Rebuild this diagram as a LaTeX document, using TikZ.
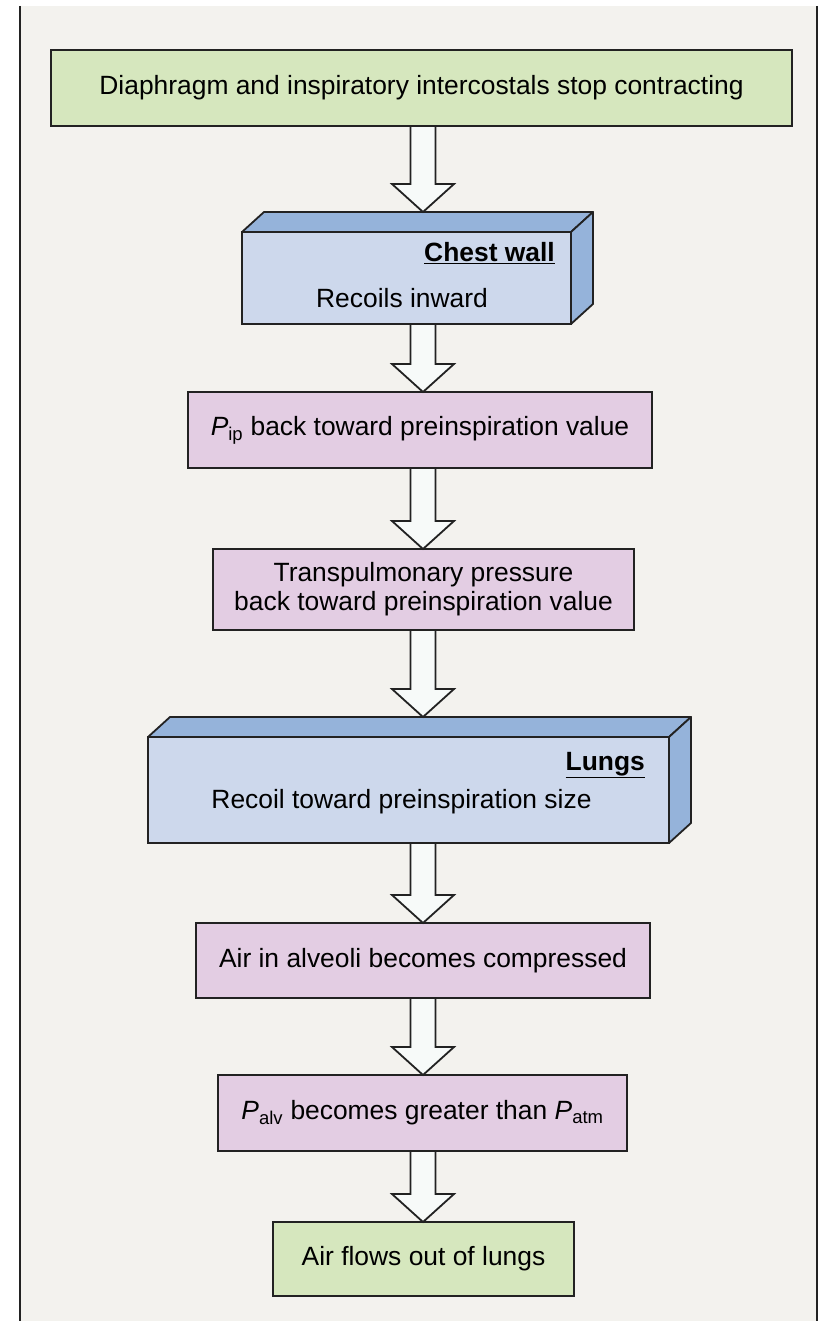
\documentclass[tikz,border=0pt]{standalone}
\usepackage{fontspec}
\setmainfont{Liberation Sans}
\usetikzlibrary{calc}
\definecolor{paper}{HTML}{F3F2EE}
\definecolor{leaf}{HTML}{D6E7BE}
\definecolor{skyfront}{HTML}{CDD8EC}
\definecolor{skyside}{HTML}{95B3DA}
\definecolor{lilac}{HTML}{E3CDE3}
\definecolor{arrowfill}{HTML}{F7FAF9}
\definecolor{ink}{HTML}{222222}
\tikzset{
  box/.style={draw=ink, line width=1.8pt, inner sep=0pt, outer sep=0pt,
    font=\fontsize{26.4}{29}\selectfont, align=center},
  greenbox/.style={box, fill=leaf},
  pinkbox/.style={box, fill=lilac},
  bluebox/.style={box, fill=skyfront},
  slab/.style={draw=ink, line width=1.8pt, fill=skyside, line join=round},
  fat/.style={draw=ink, line width=1.8pt, fill=arrowfill, line join=miter},
  tag/.style={inner sep=0pt, font=\fontsize{26.4}{29}\selectfont},
}
% hollow arrow from #1 down to #2, on the x of (axis)
\newcommand{\fatarrow}[2]{%
  \draw[fat] ($(#1 -| axis)+(-12.5,0)$) -- ($(#2 -| axis)+(-12.5,-28)$)
    -- ($(#2 -| axis)+(-31,-28)$) -- (#2 -| axis)
    -- ($(#2 -| axis)+(31,-28)$) -- ($(#2 -| axis)+(12.5,-28)$)
    -- ($(#1 -| axis)+(12.5,0)$) -- cycle;}
\begin{document}
\begin{tikzpicture}[x=1pt, y=-1pt]
  \useasboundingbox (0,0) rectangle (825,1321);
  \fill[paper] (20,6) rectangle (817,1321);
  \draw[ink, line width=1.8pt] (20,6) -- (20,1321) (817,6) -- (817,1321);
  \coordinate (axis) at (423,0);

  \node[greenbox, minimum width=741pt, minimum height=76pt] (stop) at (421.5,88)
    {Diaphragm and inspiratory intercostals stop contracting};

  \node[bluebox, minimum width=329pt, minimum height=92pt] (chest) at (406.5,278) {};
  \draw[slab] (chest.north west) -- ($(chest.north west)+(22,-20)$)
    -- ($(chest.north east)+(22,-20)$) -- (chest.north east) -- cycle;
  \draw[slab] (chest.north east) -- ($(chest.north east)+(22,-20)$)
    -- ($(chest.south east)+(22,-20)$) -- (chest.south east) -- cycle;
  \coordinate (chestback) at ($(chest.north)+(0,-20)$);
  \node[tag, anchor=base east, font=\fontsize{26.4}{29}\selectfont\bfseries] (chesttitle)
    at ($(chest.north east)+(-16,30)$) {\underline{Chest wall}};
  \node[tag, anchor=base] (chesttext) at ($(chest.north)+(-4.5,75)$) {Recoils inward};

  \node[pinkbox, minimum width=464pt, minimum height=76pt] (pip) at (420,430)
    {\textit{P}\textsubscript{ip} back toward preinspiration value};

  \node[pinkbox, minimum width=421pt, minimum height=81pt] (trans) at (423.5,589.5)
    {Transpulmonary pressure\\back toward preinspiration value};

  \node[bluebox, minimum width=521pt, minimum height=106pt] (lungs) at (408.5,790) {};
  \draw[slab] (lungs.north west) -- ($(lungs.north west)+(22,-20)$)
    -- ($(lungs.north east)+(22,-20)$) -- (lungs.north east) -- cycle;
  \draw[slab] (lungs.north east) -- ($(lungs.north east)+(22,-20)$)
    -- ($(lungs.south east)+(22,-20)$) -- (lungs.south east) -- cycle;
  \coordinate (lungsback) at ($(lungs.north)+(0,-20)$);
  \node[tag, anchor=base east, font=\fontsize{26.4}{29}\selectfont\bfseries] (lungstitle)
    at ($(lungs.north east)+(-24,33)$) {\underline{Lungs}};
  \node[tag, anchor=base] (lungstext) at ($(lungs.north)+(-7,71)$)
    {Recoil toward preinspiration size};

  \node[pinkbox, minimum width=454pt, minimum height=75pt] (air) at (423,960.5)
    {Air in alveoli becomes compressed};

  \node[pinkbox, minimum width=409pt, minimum height=76pt] (palv) at (422.5,1113)
    {\textit{P}\textsubscript{alv} becomes greater than \textit{P}\textsubscript{atm}};

  \node[greenbox, minimum width=301pt, minimum height=74pt] (out) at (423.5,1259)
    {Air flows out of lungs};

  \begin{scope}
    \fatarrow{stop.south}{chestback}
    \fatarrow{chest.south}{pip.north}
    \fatarrow{pip.south}{trans.north}
    \fatarrow{trans.south}{lungsback}
    \fatarrow{lungs.south}{air.north}
    \fatarrow{air.south}{palv.north}
    \fatarrow{palv.south}{out.north}
  \end{scope}
\end{tikzpicture}
\end{document}
